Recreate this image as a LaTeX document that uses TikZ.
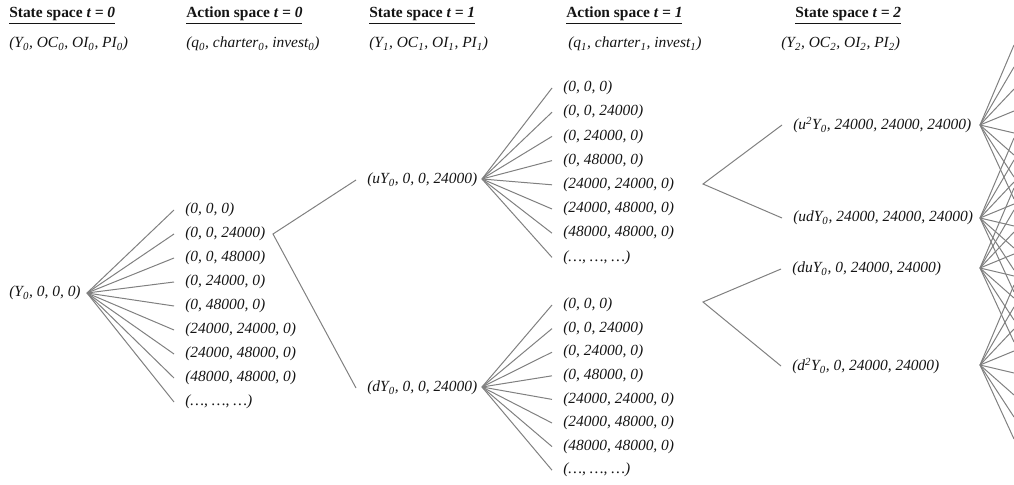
\documentclass[tikz,border=0pt]{standalone}
\usepackage{fontspec}
\setmainfont{Liberation Serif}
\definecolor{lgray}{RGB}{128,128,128}
\definecolor{ink}{RGB}{20,20,20}
\begin{document}
\begin{tikzpicture}[x=0.75pt,y=-0.75pt,
  lbl/.style={anchor=west, inner xsep=8.25pt, inner ysep=0pt, text=ink, font=\fontsize{11.6}{14}\selectfont\itshape},
  hdr/.style={anchor=base west, inner sep=0pt, text=ink, font=\fontsize{11.6}{14}\selectfont\bfseries},
  sub/.style={anchor=base west, inner sep=0pt, text=ink, font=\fontsize{11.6}{14}\selectfont\itshape},
  conn/.style={draw=lgray, line width=0.75pt}]
\useasboundingbox (0,0) rectangle (1014,485);

% headers
\node[hdr] (h1) at (9,18) {\underline{State space \textit{t = 0}}};
\node[hdr] (h2) at (186,18) {\underline{Action space \textit{t = 0}}};
\node[hdr] (h3) at (369,18) {\underline{State space \textit{t = 1}}};
\node[hdr] (h4) at (566,18) {\underline{Action space \textit{t = 1}}};
\node[hdr] (h5) at (795,18) {\underline{State space \textit{t = 2}}};
\node[sub] (s1) at (9,48) {(Y\textsubscript{0}, OC\textsubscript{0}, OI\textsubscript{0}, PI\textsubscript{0})};
\node[sub] (s2) at (186,48) {(q\textsubscript{0}, charter\textsubscript{0}, invest\textsubscript{0})};
\node[sub] (s3) at (369,48) {(Y\textsubscript{1}, OC\textsubscript{1}, OI\textsubscript{1}, PI\textsubscript{1})};
\node[sub] (s4) at (568,48) {(q\textsubscript{1}, charter\textsubscript{1}, invest\textsubscript{1})};
\node[sub] (s5) at (781,48) {(Y\textsubscript{2}, OC\textsubscript{2}, OI\textsubscript{2}, PI\textsubscript{2})};

% root
\node[lbl] (root) at (-2,293) {(Y\textsubscript{0}, 0, 0, 0)};
\coordinate (R) at (87,293);

% action list t=0
\foreach \t [count=\i from 0] in {{(0, 0, 0)},{(0, 0, 24000)},{(0, 0, 48000)},{(0, 24000, 0)},{(0, 48000, 0)},{(24000, 24000, 0)},{(24000, 48000, 0)},{(48000, 48000, 0)},{(…, …, …)}}{
  \node[lbl] (a\i) at (174,{210+24*\i}) {\t};
  \draw[conn] (R) -- (a\i.west);
}
\coordinate (A1) at (273,234);

% states t=1
\node[lbl] (uY) at (356,180) {(uY\textsubscript{0}, 0, 0, 24000)};
\node[lbl] (dY) at (356,388) {(dY\textsubscript{0}, 0, 0, 24000)};
\draw[conn] (uY.west) -- (A1) -- (dY.west);
\coordinate (U1) at (482,179);
\coordinate (D1) at (482,387);

% action lists t=1
\foreach \t [count=\i from 0] in {{(0, 0, 0)},{(0, 0, 24000)},{(0, 24000, 0)},{(0, 48000, 0)},{(24000, 24000, 0)},{(24000, 48000, 0)},{(48000, 48000, 0)},{(…, …, …)}}{
  \node[lbl] (b\i) at (552,{88+24.2*\i}) {\t};
  \draw[conn] (U1) -- (b\i.west);
  \node[lbl] (c\i) at (552,{305+23.6*\i}) {\t};
  \draw[conn] (D1) -- (c\i.west);
}
\coordinate (A2) at (703,184);
\coordinate (A3) at (703,302);

% states t=2
\node[lbl] (uu) at (782,125) {(u\textsuperscript{2}Y\textsubscript{0}, 24000, 24000, 24000)};
\node[lbl] (ud) at (782,218) {(udY\textsubscript{0}, 24000, 24000, 24000)};
\node[lbl] (du) at (781,269) {(duY\textsubscript{0}, 0, 24000, 24000)};
\node[lbl] (dd) at (781,366) {(d\textsuperscript{2}Y\textsubscript{0}, 0, 24000, 24000)};
\draw[conn] (uu.west) -- (A2) -- (ud.west);
\draw[conn] (du.west) -- (A3) -- (dd.west);

\coordinate (F1) at (980,125);
\coordinate (F2) at (980,218);
\coordinate (F3) at (980,268);
\coordinate (F4) at (980,365);
\foreach \f/\y in {F1/125,F2/218,F3/268,F4/365}{
  \foreach \k in {0,...,7}{
    \coordinate (\f e\k) at (1014,{\y-80+22*\k});
    \draw[conn] (\f) -- (\f e\k);
  }
}
\end{tikzpicture}
\end{document}
